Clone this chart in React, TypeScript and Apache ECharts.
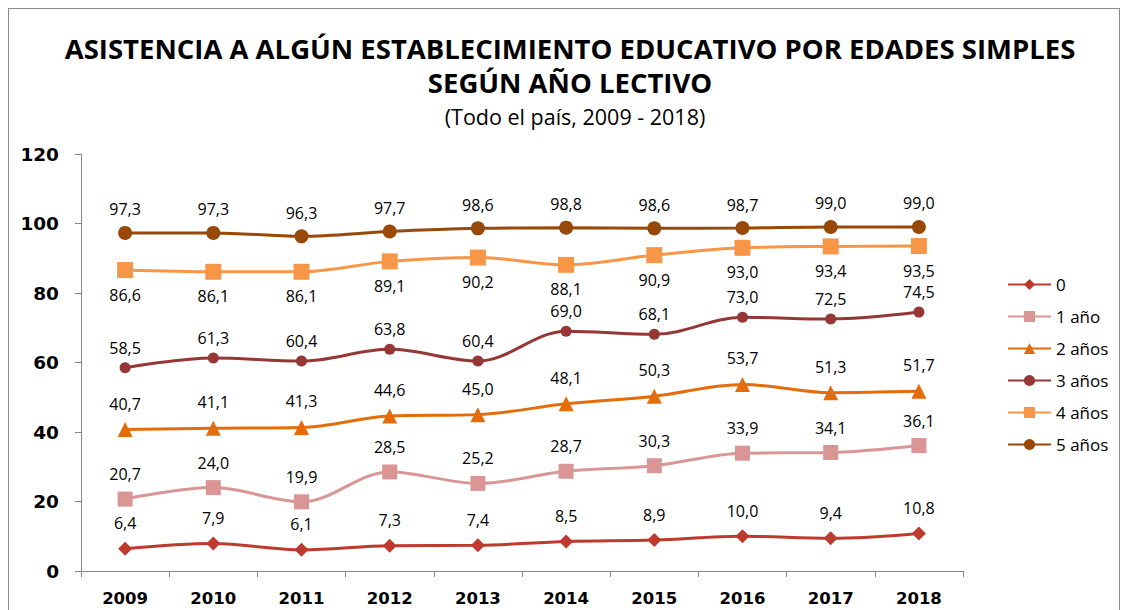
import React, { useEffect, useRef } from "react";
import * as echarts from "echarts";

const years = ["2009", "2010", "2011", "2012", "2013", "2014", "2015", "2016", "2017", "2018"];
const s0 = [6.4, 7.9, 6.1, 7.3, 7.4, 8.5, 8.9, 10.0, 9.4, 10.8];
const s1 = [20.7, 24.0, 19.9, 28.5, 25.2, 28.7, 30.3, 33.9, 34.1, 36.1];
const s2 = [40.7, 41.1, 41.3, 44.6, 45.0, 48.1, 50.3, 53.7, 51.3, 51.7];
const s3 = [58.5, 61.3, 60.4, 63.8, 60.4, 69.0, 68.1, 73.0, 72.5, 74.5];
const s4 = [86.6, 86.1, 86.1, 89.1, 90.2, 88.1, 90.9, 93.0, 93.4, 93.5];
const s5 = [97.3, 97.3, 96.3, 97.7, 98.6, 98.8, 98.6, 98.7, 99.0, 99.0];
const names = ["0", "1 año", "2 años", "3 años", "4 años", "5 años"];
const yTicks = [0, 20, 40, 60, 80, 100, 120];

const FONT = "'Open Sans', 'Noto Sans', sans-serif";
const AXFONT = "'DejaVu Sans', sans-serif";

export default function App() {
  const ref = useRef<HTMLDivElement>(null);
  useEffect(() => {
    if (!ref.current) return;
    const chart = echarts.init(ref.current, undefined, { renderer: "svg" });
    const fmt = (p: any) => Number(p.value).toFixed(1).replace(".", ",");
    const mk = (name: string, data: number[], color: string, symbol: string, size: number, pos: string, dist: number) => ({
      name,
      type: "line",
      data,
      smooth: 0.35,
      symbol,
      symbolSize: size,
      lineStyle: { color, width: 3 },
      itemStyle: { color },
      label: {
        show: true,
        position: pos,
        distance: dist,
        formatter: fmt,
        color: "#000",
        fontFamily: FONT,
        fontSize: 16,
        lineHeight: 13,
      },
    });
    chart.setOption({
      animation: false,
      title: [
        {
          text: "ASISTENCIA A ALGÚN ESTABLECIMIENTO EDUCATIVO POR EDADES SIMPLES\nSEGÚN AÑO LECTIVO",
          left: 570,
          textAlign: "center",
          top: 31,
          padding: 0,
          textStyle: { fontFamily: FONT, fontSize: 27.5, fontWeight: "bold", color: "#000", lineHeight: 34 },
        },
        {
          text: "(Todo el país, 2009 - 2018)",
          left: 575,
          textAlign: "center",
          top: 105,
          padding: 0,
          textStyle: { fontFamily: FONT, fontSize: 21.5, fontWeight: "normal", color: "#000", lineHeight: 22 },
        },
      ],
      legend: {
        orient: "vertical",
        left: 1002,
        top: 271,
        itemGap: 15,
        itemWidth: 43,
        itemHeight: 14,
        data: names,
        textStyle: { fontFamily: FONT, fontSize: 17, color: "#000" },
      },
      grid: { left: 81, right: 165, top: 154, bottom: 39, containLabel: false },
      xAxis: {
        type: "category",
        data: years,
        boundaryGap: true,
        axisLine: { lineStyle: { color: "#868686", width: 1 } },
        axisTick: { show: true, alignWithLabel: false, length: 6, lineStyle: { color: "#868686" } },
        axisLabel: { color: "#000", fontFamily: AXFONT, fontSize: 16.5, fontWeight: "bold", margin: 19 },
      },
      yAxis: {
        type: "value",
        min: yTicks[0],
        max: yTicks[yTicks.length - 1],
        interval: 20,
        axisLine: { show: true, lineStyle: { color: "#868686", width: 1 } },
        axisTick: { show: true, length: 6, lineStyle: { color: "#868686" } },
        splitLine: { show: false },
        axisLabel: { color: "#000", fontFamily: AXFONT, fontSize: 18.5, fontWeight: "bold", margin: 22 },
      },
      series: [
        mk(names[0], s0, "#BE3A2F", "diamond", 14, "top", 12),
        mk(names[1], s1, "#D99694", "rect", 15, "top", 11),
        mk(names[2], s2, "#E46C0A", "triangle", 15, "top", 12),
        mk(names[3], s3, "#953735", "circle", 11, "top", 8),
        mk(names[4], s4, "#F79646", "rect", 16, "bottom", 10),
        mk(names[5], s5, "#984807", "circle", 14, "top", 10),
      ],
    });
    return () => chart.dispose();
  }, []);
  return (
    <div style={{ position: "absolute", left: 0, top: 0, width: 1128, height: 610, background: "#fff" }}>
      <div style={{ position: "absolute", left: 8, top: 8, width: 1112, height: 640, border: "1px solid #8c8c8c", boxSizing: "border-box" }} />
      <div ref={ref} style={{ position: "absolute", left: 0, top: 0, width: 1128, height: 610 }} />
    </div>
  );
}
